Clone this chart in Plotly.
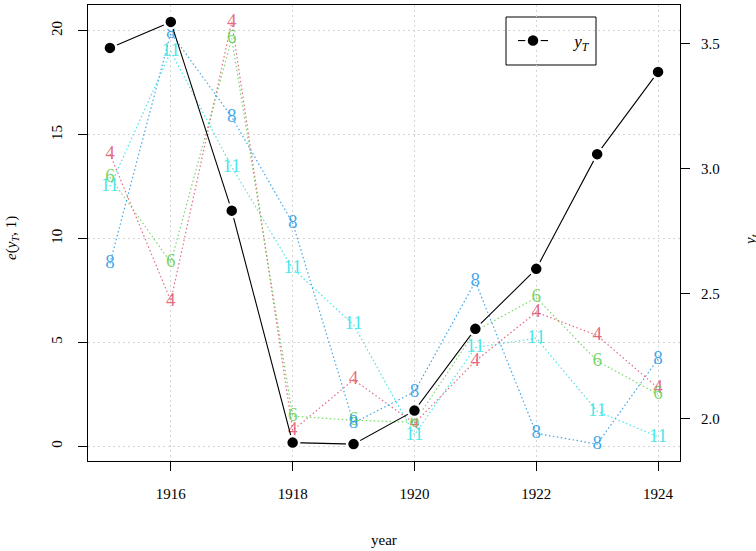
import plotly.graph_objects as go

years = [1915, 1916, 1917, 1918, 1919, 1920, 1921, 1922, 1923, 1924]
y_T = [3.484, 3.588, 2.833, 1.905, 1.899, 2.033, 2.360, 2.600, 3.059, 3.388]

series_names = ["4", "6", "8", "11"]
e_4 = [14.07, 7.00, 20.43, 0.75, 3.20, 1.10, 4.10, 6.45, 5.33, 2.80]
e_6 = [12.95, 8.85, 19.62, 1.45, 1.25, 1.15, 5.55, 7.15, 4.10, 2.50]
e_8 = [8.80, 19.90, 15.85, 10.75, 1.12, 2.62, 7.92, 0.62, 0.10, 4.20]
e_11 = [12.50, 19.00, 13.45, 8.55, 5.85, 0.55, 4.75, 5.20, 1.68, 0.45]
series_values = [e_4, e_6, e_8, e_11]
series_colors = ["rgba(223,83,107,0.85)", "rgba(97,208,79,0.85)",
                 "rgba(34,151,230,0.85)", "rgba(40,226,229,0.85)"]

x_ticks = [1916, 1918, 1920, 1922, 1924]
left_ticks = [0, 5, 10, 15, 20]
right_ticks = [2.0, 2.5, 3.0, 3.5]
right_ticklabels = ["2.0", "2.5", "3.0", "3.5"]

FONT = "Liberation Serif, Times New Roman, serif"


def padded(lo, hi, f=0.04):
    d = (hi - lo) * f
    return [lo - d, hi + d]


allv = [v for s in series_values for v in s]
xr = padded(min(years), max(years))
yr = padded(min(allv), max(allv))
y2r = padded(min(y_T), max(y_T))

fig = go.Figure()
for name, vals, col in zip(series_names, series_values, series_colors):
    fig.add_trace(go.Scatter(
        x=years, y=vals, mode="lines+text", text=[name] * len(years),
        textposition="middle center",
        textfont=dict(family=FONT, size=19, color=col),
        line=dict(color=col, width=1.2, dash="1.5px,2.5px"),
        showlegend=False, hoverinfo="skip", yaxis="y"))

fig.add_trace(go.Scatter(
    x=years, y=y_T, mode="lines+markers",
    name="&nbsp;&nbsp;&nbsp;&nbsp;&nbsp;<i>y<sub>T</sub></i>",
    line=dict(color="black", width=1.1),
    marker=dict(color="black", size=13, line=dict(color="white", width=2.5)),
    yaxis="y2", showlegend=True))

axis_common = dict(showline=True, linecolor="black", linewidth=1,
                   ticks="outside", ticklen=9, tickcolor="black",
                   tickfont=dict(family=FONT, size=15, color="black"),
                   zeroline=False)

grid = dict(showgrid=True, gridcolor="#D4D4D4", griddash="2px,3px", gridwidth=1)

fig.update_layout(
    width=756, height=551,
    margin=dict(l=88, r=76, t=5, b=90),
    plot_bgcolor="white", paper_bgcolor="white",
    font=dict(family=FONT, color="black"),
    xaxis=dict(range=xr, tickvals=x_ticks, mirror=True,
               ticklabelstandoff=10, **grid, **axis_common),
    yaxis=dict(range=yr, tickvals=left_ticks, tickangle=-90, mirror=True,
               ticklabelstandoff=10, **grid, **axis_common),
    yaxis2=dict(range=y2r, tickvals=right_ticks, ticktext=right_ticklabels,
                overlaying="y", side="right", showgrid=False,
                ticklabelstandoff=8, **axis_common),
    legend=dict(x=(513 - 88) / 592, y=0.921, xanchor="left", yanchor="middle",
                bgcolor="rgba(0,0,0,0)", borderwidth=0,
                font=dict(family=FONT, size=17, color="black")),
    shapes=[dict(type="rect", xref="paper", yref="paper",
                 x0=(506 - 88) / 592, x1=(596 - 88) / 592,
                 y0=(461 - 65) / 456, y1=(461 - 17) / 456,
                 line=dict(color="black", width=1), fillcolor="white",
                 layer="below")],
    annotations=[
        dict(text="year", xref="paper", yref="paper", x=0.5, y=(461 - 540) / 456,
             showarrow=False, font=dict(family=FONT, size=15), yanchor="middle"),
        dict(text="<i>e</i>(<i>y<sub>T</sub></i>, 1)", xref="paper", yref="paper",
             x=(12 - 88) / 592, y=(461 - 238) / 456, textangle=-90,
             showarrow=False, font=dict(family=FONT, size=15),
             xanchor="center", yanchor="middle"),
        dict(text="<i>y<sub>t</sub></i>", xref="paper", yref="paper",
             x=(751 - 88) / 592, y=(461 - 240) / 456, textangle=-90,
             showarrow=False, font=dict(family=FONT, size=15),
             xanchor="center", yanchor="middle"),
    ],
)

fig.write_html("out.html")
